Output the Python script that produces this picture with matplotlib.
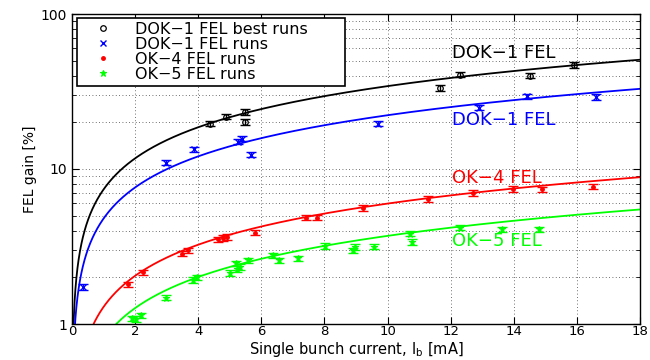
import numpy as np
import matplotlib
matplotlib.use("Agg")
import matplotlib.pyplot as plt
from matplotlib.lines import Line2D
from matplotlib.ticker import FixedLocator, NullFormatter, LogLocator

# ---------------- data ----------------
dok1_best_I = [4.37, 4.87, 5.49, 5.49, 11.66, 12.29, 14.51, 15.9]
dok1_best_G = [19.6, 21.8, 23.4, 20.1, 33.4, 40.6, 40.1, 46.9]

dok1_I = [0.34, 2.98, 3.88, 5.25, 5.40, 5.68, 9.71, 12.9, 14.41, 16.6]
dok1_G = [1.73, 11.0, 13.4, 15.0, 15.7, 12.4, 19.6, 24.9, 29.5, 29.2]

ok4_I = [1.78, 2.26, 3.48, 3.67, 4.62, 4.79, 4.90, 5.80, 7.43, 7.75,
         9.21, 11.29, 12.72, 13.98, 14.88, 16.52]
ok4_G = [1.80, 2.15, 2.84, 2.99, 3.52, 3.59, 3.65, 3.89, 4.85, 4.85,
         5.62, 6.42, 7.02, 7.44, 7.41, 7.70]

ok5_I = [1.89, 2.03, 2.19, 2.98, 3.84, 3.95, 5.01, 5.20, 5.22, 5.32,
         5.59, 6.38, 6.57, 7.17, 8.02, 8.89, 8.97, 9.57, 10.71, 10.76,
         12.29, 13.62, 14.81]
ok5_G = [1.09, 1.08, 1.14, 1.48, 1.92, 2.00, 2.14, 2.46, 2.26, 2.34,
         2.58, 2.78, 2.57, 2.65, 3.19, 2.99, 3.15, 3.16, 3.83, 3.39,
         4.19, 4.08, 4.08]

rel_err = 0.04  # relative error bar half-height

# fitted curves G = a * I^p
fit_names = ["DOK−1 FEL", "DOK−1 FEL", "OK−4 FEL", "OK−5 FEL"]
fit_coef = [7.38, 4.79, 1.289, 0.798]
fit_exp = 2.0 / 3.0
fit_label_pos_I = [12.04, 12.04, 12.04, 12.04]
fit_label_pos_G = [56.0, 20.6, 8.75, 3.43]

x_ticks = [0, 2, 4, 6, 8, 10, 12, 14, 16, 18]
y_ticks = [1, 10, 100]
y_ticklabels = ["1", "10", "100"]

colors = ["black", (0, 0, 1), (1, 0, 0), (0, 1, 0)]

# ---------------- figure ----------------
plt.rcParams['font.family'] = ['DejaVu Sans']
W, H = 650, 360
ax_bottom_px = 324
ax_top_px = 14
fig = plt.figure(figsize=(6.5, 3.6), dpi=100)
ax_h = (ax_bottom_px - ax_top_px)
ax = fig.add_axes([72 / W, 1 - ax_bottom_px / H, 568 / W, ax_h / H])
ax.set_yscale('log')
ax.set_xlim(0, 18)
ax.set_ylim(1, 100)

# grid
ax.set_axisbelow(True)
grid_kw = dict(color='0.25', linestyle=(0, (1, 3)), linewidth=0.6)
ax.grid(True, which='major', axis='both', **grid_kw)
ax.grid(True, which='minor', axis='y', **grid_kw)

# fitted curves
Ic = np.linspace(0.001, 18, 2000)
for a, c in zip(fit_coef, colors):
    ax.plot(Ic, a * Ic ** fit_exp, color=c, lw=1.3, zorder=2)

# data with error bars
series = [
    (dok1_best_I, dok1_best_G, colors[0], 'o', dict(mfc='none', mec='black', ms=4, mew=0.9)),
    (dok1_I, dok1_G, colors[1], 'x', dict(ms=4, mew=1.0)),
    (ok4_I, ok4_G, colors[2], '.', dict(ms=5)),
    (ok5_I, ok5_G, colors[3], '*', dict(ms=5, mew=0.8)),
]
labels = ["DOK−1 FEL best runs", "DOK−1 FEL runs", "OK−4 FEL runs", "OK−5 FEL runs"]
for (xs, ys, c, m, kw) in series:
    xs = np.asarray(xs); ys = np.asarray(ys)
    ax.errorbar(xs, ys, yerr=ys * rel_err, fmt='none', ecolor=c,
                elinewidth=1.0, capsize=3.5, capthick=1.0, zorder=3)
    ax.plot(xs, ys, linestyle='none', marker=m, color=c, zorder=4, **kw)

# curve labels
for name, xi, yi, c in zip(fit_names, fit_label_pos_I, fit_label_pos_G, colors):
    ax.text(xi, yi, name, color=c, fontsize=13, ha='left', va='center', zorder=5)

# axes styling
ax.set_xticks(x_ticks)
ax.set_xticklabels([str(t) for t in x_ticks])
ax.yaxis.set_major_locator(FixedLocator(y_ticks))
ax.set_yticklabels(y_ticklabels)
ax.yaxis.set_minor_locator(LogLocator(base=10, subs=np.arange(2, 10)))
ax.yaxis.set_minor_formatter(NullFormatter())
ax.tick_params(which='both', direction='in', top=True, right=True, labelsize=10)
ax.tick_params(which='major', length=5, width=0.8)
ax.tick_params(which='minor', length=3, width=0.6)
ax.tick_params(axis='x', labelsize=9.5, pad=1)
for s in ax.spines.values():
    s.set_linewidth(1.0)

ax.set_xlabel("Single bunch current, I$_\\mathregular{b}$ [mA]", fontsize=10.5, va='bottom')
ax.xaxis.set_label_coords(0.5, -(H - 1 - ax_bottom_px) / ax_h)
ax.set_ylabel("FEL gain [%]", fontsize=10, labelpad=3)

# legend
handles = [
    Line2D([], [], linestyle='none', marker='o', mfc='none', mec='black', ms=4, mew=0.9),
    Line2D([], [], linestyle='none', marker='x', color=colors[1], ms=4, mew=1.0),
    Line2D([], [], linestyle='none', marker='.', color=colors[2], ms=5),
    Line2D([], [], linestyle='none', marker='*', color=colors[3], ms=5, mew=0.8),
]
leg_x0 = (77 - 72) / 568
leg_top = (ax_bottom_px - 18) / ax_h
leg_w = (345 - 77) / 568
leg = ax.legend(handles, labels, loc='upper left',
                bbox_to_anchor=(leg_x0, leg_top - 0.3, leg_w, 0.3), mode='expand',
                borderaxespad=0, fontsize=11.5, frameon=True, fancybox=False,
                framealpha=1, edgecolor='black', handlelength=2.8,
                handletextpad=0.6, labelspacing=0.0, borderpad=0.25)
leg.get_frame().set_linewidth(1.2)

fig.savefig("out.png", dpi=100)
